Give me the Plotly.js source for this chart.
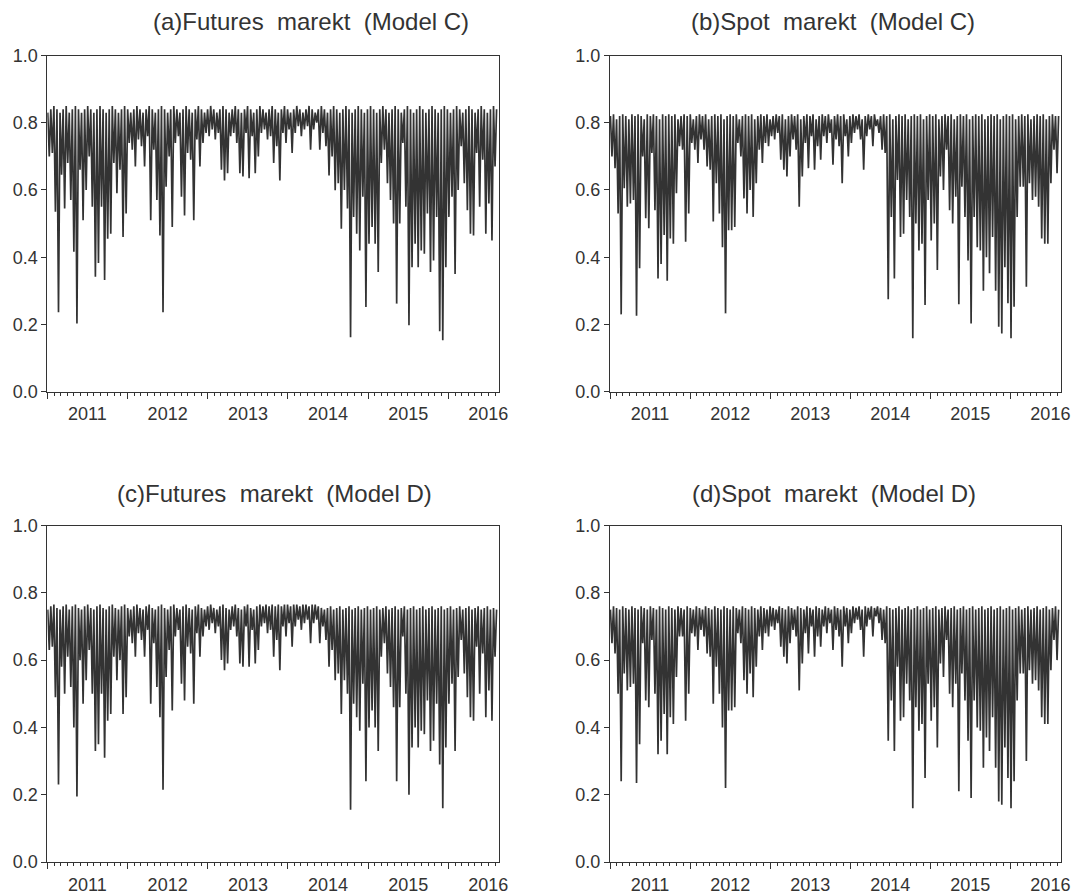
<!DOCTYPE html>
<html>
<head>
<meta charset="utf-8">
<script src="https://cdn.plot.ly/plotly-3.0.1.min.js"></script>
<style>
html,body{margin:0;padding:0;background:#fff;}
#chart{width:1078px;height:896px;}
</style>
</head>
<body>
<div id="chart"></div>
<script>
// Weekly observations starting on the first trading week of 2011
const startDate = '2011-01-03';
const stepDays = 7;

const panelTitles = [
  '(a)Futures\u00a0\u00a0marekt\u00a0\u00a0(Model C)',
  '(b)Spot\u00a0\u00a0marekt\u00a0\u00a0(Model C)',
  '(c)Futures\u00a0\u00a0marekt\u00a0\u00a0(Model D)',
  '(d)Spot\u00a0\u00a0marekt\u00a0\u00a0(Model D)'
];
const yearTicks = ['2011','2012','2013','2014','2015','2016'];
const yTickValues = [0.0, 0.2, 0.4, 0.6, 0.8, 1.0];

// (a) Futures market, Model C
const futuresC = [
.83,.70,.84,.71,.85,.535,.84,.236,.83,.645,.84,.545,.85,.68,.83,.57,.84,.416,.85,.203,
.84,.66,.83,.51,.84,.60,.85,.70,.84,.55,.83,.342,.84,.383,.85,.55,.84,.332,.83,.455,
.84,.47,.85,.68,.84,.59,.83,.66,.84,.46,.85,.53,.84,.74,.83,.72,.84,.67,.85,.75,
.84,.73,.83,.67,.84,.76,.85,.51,.84,.72,.83,.57,.84,.465,.85,.236,.84,.61,.83,.70,
.84,.49,.85,.74,.84,.76,.83,.58,.84,.524,.85,.71,.84,.69,.83,.51,.84,.75,.85,.67,
.84,.74,.83,.77,.84,.76,.85,.78,.84,.75,.83,.77,.84,.66,.85,.628,.84,.65,.83,.76,
.84,.77,.85,.74,.84,.65,.83,.64,.84,.77,.85,.635,.84,.76,.83,.65,.84,.70,.85,.77,
.84,.78,.83,.75,.84,.76,.85,.68,.84,.73,.83,.628,.84,.77,.85,.74,.84,.78,.83,.71,
.84,.77,.85,.79,.84,.76,.83,.78,.84,.79,.85,.72,.84,.78,.83,.80,.84,.72,.85,.77,
.84,.73,.83,.643,.84,.70,.85,.599,.84,.62,.83,.485,.84,.60,.85,.545,.84,.162,.83,.52,
.84,.47,.85,.42,.84,.58,.83,.252,.84,.44,.85,.49,.84,.44,.83,.356,.84,.68,.85,.72,
.84,.62,.83,.57,.84,.50,.85,.262,.84,.50,.83,.74,.84,.55,.85,.198,.84,.37,.83,.44,
.84,.37,.85,.42,.84,.41,.83,.53,.84,.356,.85,.39,.84,.52,.83,.18,.84,.153,.85,.37,
.84,.52,.83,.58,.84,.35,.85,.60,.84,.73,.83,.62,.84,.54,.85,.47,.84,.465,.83,.71,
.84,.55,.85,.69,.84,.47,.83,.56,.84,.45,.85,.67,.84
];

// (b) Spot market, Model C
const spotC = [
.82,.70,.825,.665,.81,.53,.82,.23,.825,.605,.82,.55,.81,.56,.825,.57,.82,.226,.825,.367,
.82,.70,.81,.516,.825,.486,.82,.71,.825,.54,.82,.337,.81,.38,.825,.466,.82,.33,.825,.456,
.82,.44,.825,.59,.81,.73,.82,.72,.825,.446,.82,.53,.825,.74,.81,.72,.82,.68,.825,.75,
.82,.72,.825,.67,.81,.66,.82,.506,.825,.62,.82,.53,.825,.43,.81,.233,.82,.48,.825,.48,
.82,.49,.825,.74,.81,.70,.82,.575,.825,.53,.82,.60,.825,.52,.81,.62,.82,.72,.825,.68,
.82,.74,.825,.73,.81,.76,.82,.75,.825,.77,.82,.69,.825,.66,.81,.64,.82,.70,.825,.75,
.82,.72,.825,.55,.81,.64,.82,.74,.825,.665,.82,.76,.825,.66,.81,.73,.82,.69,.825,.76,
.82,.74,.825,.77,.81,.675,.82,.75,.825,.73,.82,.62,.825,.76,.81,.70,.82,.74,.825,.77,
.82,.78,.825,.75,.81,.66,.82,.76,.825,.78,.82,.73,.825,.79,.81,.77,.82,.72,.825,.71,
.82,.275,.825,.52,.81,.337,.82,.63,.825,.46,.82,.47,.825,.57,.81,.52,.82,.159,.825,.50,
.82,.42,.825,.44,.81,.258,.82,.57,.825,.45,.82,.50,.825,.362,.81,.64,.82,.60,.825,.72,
.82,.54,.825,.50,.81,.58,.82,.26,.825,.61,.82,.52,.825,.39,.81,.203,.82,.52,.825,.43,
.82,.42,.825,.30,.81,.40,.82,.352,.825,.46,.82,.30,.825,.193,.81,.173,.82,.37,.825,.263,
.82,.159,.825,.253,.81,.52,.82,.61,.825,.61,.82,.312,.825,.62,.81,.57,.82,.58,.825,.55,
.82,.456,.825,.44,.81,.44,.82,.62,.825,.72,.82,.65,.82
];

// (c) Futures market, Model D
const futuresD = [
.75,.63,.76,.64,.765,.49,.755,.23,.75,.58,.76,.50,.765,.61,.75,.52,.76,.40,.765,.195,
.755,.60,.75,.47,.76,.54,.765,.63,.755,.50,.75,.33,.76,.35,.765,.50,.755,.31,.75,.42,
.76,.44,.765,.61,.755,.54,.75,.60,.76,.44,.765,.49,.755,.67,.75,.65,.76,.61,.765,.68,
.755,.66,.75,.61,.76,.69,.765,.47,.755,.65,.75,.52,.76,.43,.765,.215,.755,.55,.75,.63,
.76,.45,.765,.67,.755,.69,.75,.53,.76,.48,.765,.64,.755,.62,.75,.47,.76,.68,.765,.61,
.755,.67,.75,.70,.76,.69,.765,.71,.755,.68,.75,.70,.76,.60,.765,.57,.755,.59,.75,.69,
.76,.70,.765,.67,.755,.59,.75,.58,.76,.70,.765,.58,.755,.69,.75,.59,.76,.63,.765,.70,
.76,.71,.765,.68,.76,.69,.765,.61,.76,.66,.765,.57,.76,.70,.765,.67,.765,.71,.76,.64,
.765,.70,.765,.72,.76,.69,.765,.71,.765,.72,.76,.65,.765,.71,.765,.72,.76,.65,.755,.70,
.75,.66,.755,.58,.76,.63,.75,.54,.755,.56,.76,.44,.75,.54,.755,.50,.76,.155,.75,.47,
.755,.43,.76,.39,.75,.53,.755,.24,.76,.40,.75,.45,.755,.40,.76,.33,.75,.61,.755,.65,
.76,.56,.75,.52,.755,.46,.76,.24,.75,.46,.755,.67,.76,.50,.75,.20,.755,.34,.76,.40,
.75,.34,.755,.39,.76,.38,.75,.48,.755,.33,.76,.36,.75,.47,.755,.29,.76,.16,.75,.34,
.755,.47,.76,.53,.75,.33,.755,.55,.76,.66,.75,.56,.755,.49,.76,.43,.75,.42,.755,.64,
.76,.50,.75,.62,.755,.43,.76,.51,.75,.42,.755,.61,.75
];

// (d) Spot market, Model D
const spotD = [
.75,.65,.76,.62,.755,.50,.75,.24,.76,.56,.755,.51,.75,.52,.76,.53,.755,.235,.75,.35,
.76,.65,.755,.48,.75,.46,.76,.66,.755,.50,.75,.32,.76,.36,.755,.44,.75,.32,.76,.43,
.755,.41,.75,.55,.76,.67,.755,.67,.75,.42,.76,.50,.755,.68,.75,.67,.76,.63,.755,.69,
.75,.67,.76,.62,.755,.61,.75,.47,.76,.58,.755,.50,.75,.40,.76,.22,.755,.45,.75,.45,
.76,.46,.755,.68,.75,.65,.76,.54,.755,.50,.75,.56,.76,.49,.755,.58,.75,.67,.76,.63,
.755,.68,.75,.67,.76,.70,.755,.69,.75,.71,.76,.64,.755,.61,.75,.59,.76,.65,.755,.69,
.75,.67,.76,.51,.755,.59,.75,.68,.76,.62,.755,.70,.75,.61,.76,.67,.755,.64,.75,.70,
.76,.68,.755,.71,.75,.63,.76,.69,.755,.67,.75,.58,.76,.70,.755,.65,.75,.68,.76,.71,
.755,.72,.76,.69,.75,.61,.76,.70,.755,.72,.76,.67,.755,.73,.76,.71,.755,.66,.75,.65,
.76,.36,.755,.48,.75,.33,.755,.58,.76,.42,.75,.43,.755,.53,.76,.48,.75,.16,.755,.46,
.76,.39,.75,.41,.755,.25,.76,.53,.75,.42,.755,.46,.76,.34,.75,.59,.755,.55,.76,.66,
.75,.50,.755,.46,.76,.53,.75,.21,.755,.56,.76,.48,.75,.36,.755,.19,.76,.48,.75,.40,
.755,.39,.76,.28,.75,.37,.755,.33,.76,.43,.75,.28,.755,.18,.76,.17,.75,.34,.755,.25,
.76,.16,.75,.24,.755,.48,.76,.56,.75,.56,.755,.30,.76,.57,.75,.53,.755,.54,.76,.51,
.75,.43,.755,.41,.76,.41,.75,.57,.755,.66,.76,.60,.75
];

const seriesList = [futuresC, spotC, futuresD, spotD];

function makeDates(n) {
  const t0 = Date.parse(startDate + 'T00:00:00Z');
  const out = [];
  for (let i = 0; i < n; i++) {
    out.push(new Date(t0 + i * stepDays * 86400000).toISOString().slice(0, 10));
  }
  return out;
}

const W = 1078, H = 896;
const lineColor = '#333333';
const fontFam = '"Liberation Sans", Arial, Helvetica, sans-serif';

// panel frames in pixels: [left, right, top, bottom]
const frames = [
  [47.3, 499, 55.5, 391.7],
  [610, 1061, 55.5, 391.7],
  [47.3, 499, 525.5, 862],
  [610, 1061, 525.5, 862]
];
const titlePos = [[311, 22], [833, 22], [274, 493], [834, 493]];

const traces = [];
const layout = {
  width: W, height: H,
  margin: {l: 0, r: 0, t: 0, b: 0},
  paper_bgcolor: '#ffffff',
  plot_bgcolor: '#ffffff',
  showlegend: false,
  font: {family: fontFam, color: '#333333'},
  annotations: []
};

seriesList.forEach((vals, k) => {
  const sfx = k === 0 ? '' : String(k + 1);
  traces.push({
    type: 'scatter', mode: 'lines',
    x: makeDates(vals.length), y: vals,
    xaxis: 'x' + sfx, yaxis: 'y' + sfx,
    line: {color: lineColor, width: 1.7},
    hoverinfo: 'skip'
  });
  const f = frames[k];
  layout['xaxis' + sfx] = {
    type: 'date',
    domain: [f[0] / W, f[1] / W],
    anchor: 'y' + sfx,
    range: ['2011-01-01', '2016-08-19'],
    tick0: '2011-01-01', dtick: 'M12',
    ticklabelmode: 'period',
    tickformat: '%Y',
    ticks: 'outside', ticklen: 6, tickwidth: 1, tickcolor: lineColor,
    minor: {dtick: 'M1', tick0: '2011-01-01', ticks: 'outside', ticklen: 3, tickwidth: 1, tickcolor: lineColor, showgrid: false},
    showline: true, mirror: true, linecolor: lineColor, linewidth: 1,
    showgrid: false, zeroline: false,
    tickfont: {family: fontFam, size: 18, color: '#333333'}
  };
  layout['yaxis' + sfx] = {
    domain: [1 - f[3] / H, 1 - f[2] / H],
    anchor: 'x' + sfx,
    range: [0, 1],
    tickvals: yTickValues,
    tickformat: '.1f',
    ticks: 'outside', ticklen: 5, tickwidth: 1, tickcolor: lineColor,
    showline: true, mirror: true, linecolor: lineColor, linewidth: 1,
    showgrid: false, zeroline: false,
    tickfont: {family: fontFam, size: 18, color: '#333333'}
  };
  layout.annotations.push({
    text: panelTitles[k],
    xref: 'paper', yref: 'paper',
    x: titlePos[k][0] / W, y: 1 - titlePos[k][1] / H,
    xanchor: 'center', yanchor: 'middle',
    showarrow: false,
    font: {family: fontFam, size: 24, color: '#333333'}
  });
});

Plotly.newPlot('chart', traces, layout, {displayModeBar: false, staticPlot: true});
</script>
</body>
</html>
